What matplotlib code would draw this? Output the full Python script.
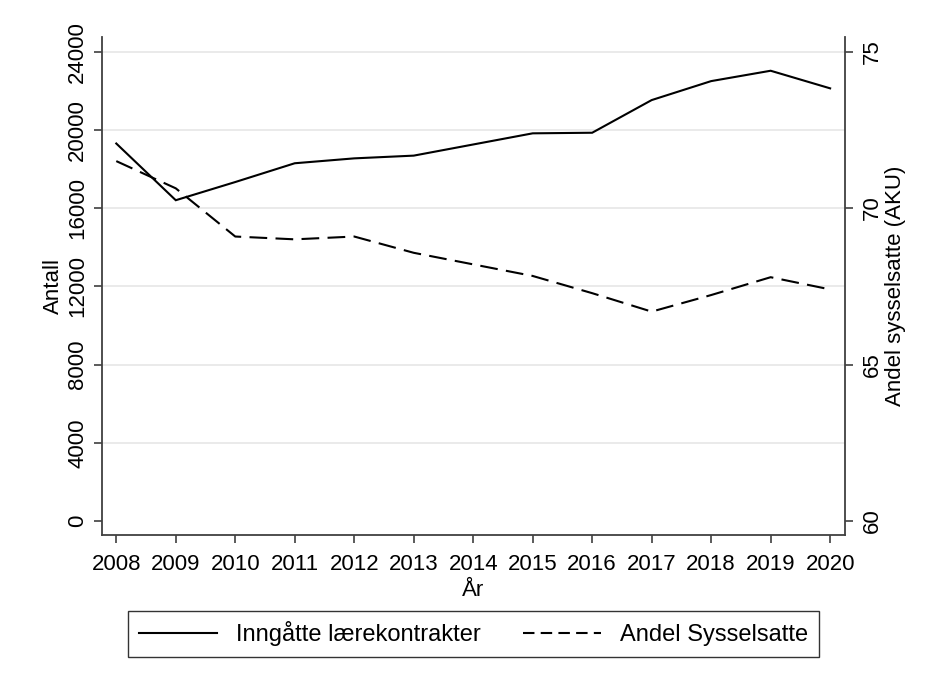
import numpy as np
import matplotlib.pyplot as plt
from matplotlib.lines import Line2D

plt.rcParams['font.family'] = ['Liberation Sans', 'DejaVu Sans']

# data
years = [2008, 2009, 2010, 2011, 2012, 2013, 2014, 2015, 2016, 2017, 2018, 2019, 2020]
kontrakter = [19300, 16400, 17330, 18290, 18540, 18680, 19250, 19820, 19850, 21520, 22490, 23020, 22120]
sysselsatte = [71.5, 70.63, 69.09, 69.0, 69.09, 68.57, 68.2, 67.83, 67.28, 66.69, 67.22, 67.79, 67.4]

left_ticks = [0, 4000, 8000, 12000, 16000, 20000, 24000]
right_ticks = [60, 65, 70, 75]

fig = plt.figure(figsize=(9.25, 6.82), dpi=100)
ax = fig.add_axes([102/925, 1-535/682, (845-102)/925, (535-37)/682])
ax2 = ax.twinx()

spine_col = '#404040'
fs = 16

ax.plot(years, kontrakter, color='black', lw=1.5, solid_joinstyle='miter')
ax2.plot(years, sysselsatte, color='black', lw=1.5, dashes=(8.5, 4))

ax.set_xlim(2007.76, 2020.25)
ax.set_ylim(-716, 24745)
# right axis shares the pixel scale: 60..75 <-> 0..24000
ax2.set_ylim(60 + (-716) / 1600, 60 + 24745 / 1600)

ax.set_xticks(years)
ax.set_yticks(left_ticks)
ax2.set_yticks(right_ticks)
ax.set_yticklabels([str(t) for t in left_ticks], rotation=90, va='center')
ax2.set_yticklabels([str(t) for t in right_ticks], rotation=90, va='center')

for t in left_ticks[1:]:
    ax.axhline(t, color='#e6e6e6', lw=1.2, zorder=0)

for a in (ax, ax2):
    a.spines['top'].set_visible(False)
    for s in ('left', 'right', 'bottom'):
        a.spines[s].set_color(spine_col)
        a.spines[s].set_linewidth(1.3)
    a.tick_params(direction='out', length=6, width=1.2, color=spine_col,
                  labelsize=fs, labelcolor='black', pad=4)
ax.tick_params(axis='x', pad=8)
ax2.tick_params(axis='y', pad=6)
ax.spines['right'].set_visible(False)
ax2.spines['left'].set_visible(False)
ax2.spines['bottom'].set_visible(False)

ax.set_ylabel('Antall', fontsize=fs, labelpad=2)
ax2.set_ylabel('Andel sysselsatte (AKU)', fontsize=fs, labelpad=2)
ax.set_xlabel('År', fontsize=fs, labelpad=3)

handles = [Line2D([], [], color='black', lw=1.5),
           Line2D([], [], color='black', lw=1.5, dashes=(5.5, 3))]
leg = fig.legend(handles, ['Inngåtte lærekontrakter', 'Andel Sysselsatte'],
                 loc='center', bbox_to_anchor=(473.5/925, 1-634/682), ncol=2,
                 fontsize=17, frameon=True, fancybox=False, handlelength=3.3,
                 columnspacing=1.8, borderpad=0.45, handletextpad=0.8)
leg.get_frame().set_edgecolor('black')
leg.get_frame().set_linewidth(1.0)

fig.savefig('out.png', dpi=100)
